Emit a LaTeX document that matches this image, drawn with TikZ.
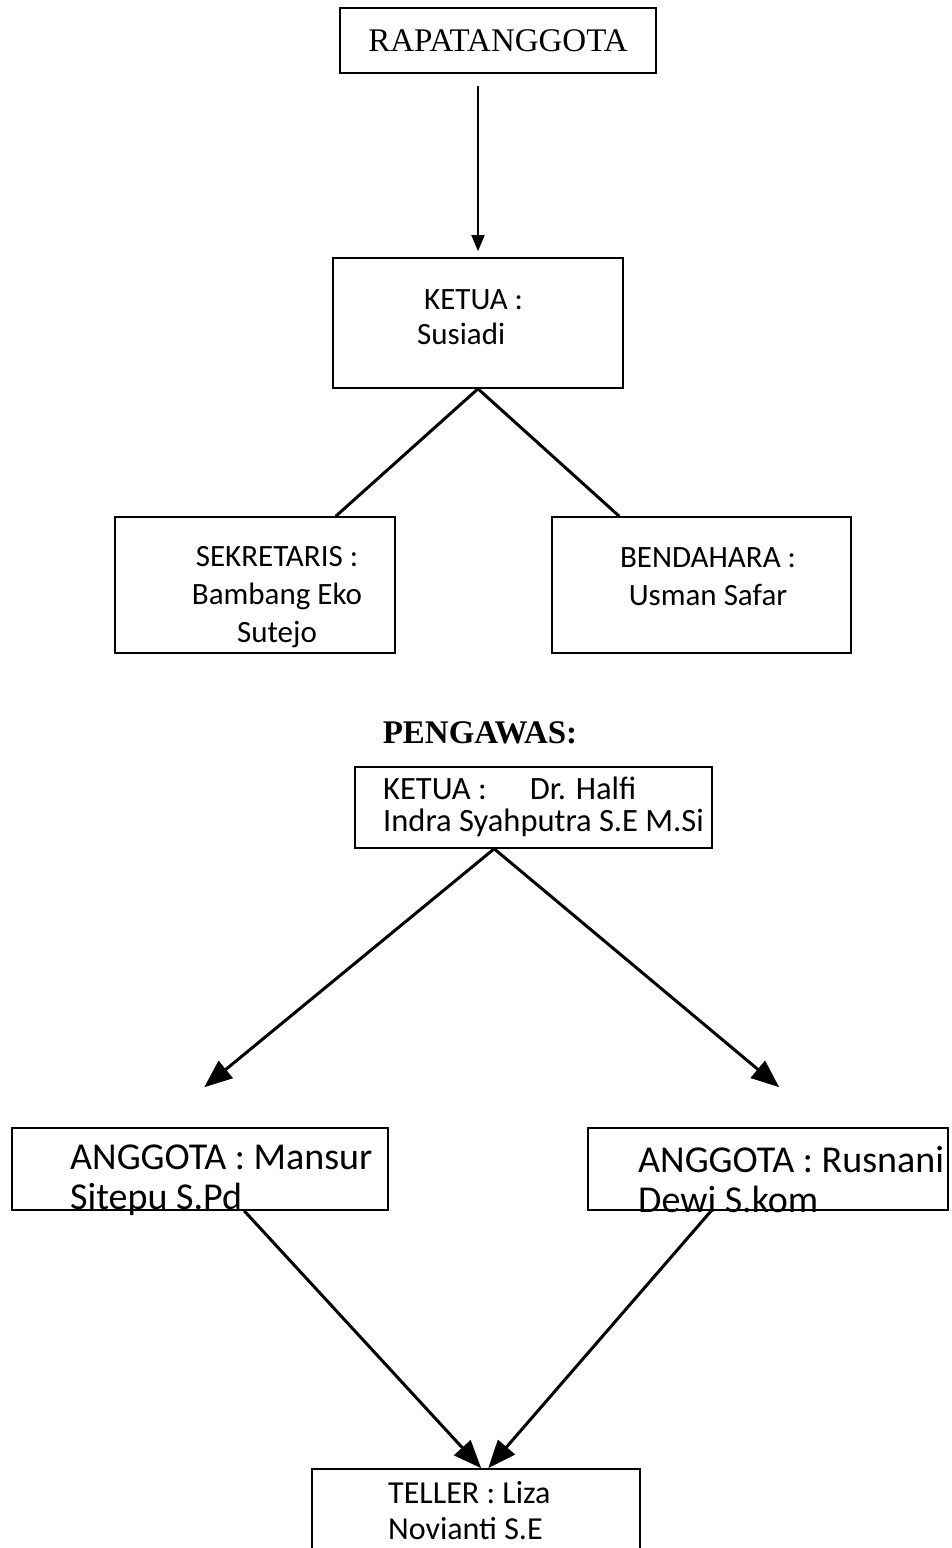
\documentclass[tikz,border=0pt]{standalone}
\usepackage{fontspec}
\setmainfont{Liberation Serif}
\newfontfamily\calibri{Carlito}
\usetikzlibrary{arrows.meta}

\begin{document}
\begin{tikzpicture}[x=1pt,y=-1pt,
      box/.style={draw,line width=1.6pt,inner sep=0pt},
      txt/.style={inner sep=0pt,align=left,font=\calibri\fontsize{32}{36}\selectfont},
      link/.style={line width=3pt},
      arr/.style={line width=3pt,-{Triangle[length=28pt,width=22pt]}}]
      \clip (0,0) rectangle (952,1548);
      \node[box,minimum width=316pt,minimum height=65pt,
        font=\fontsize{33}{38}\selectfont] (rapat) at (498,40.5) {RAPATANGGOTA};
      \node[box,minimum width=290pt,minimum height=130pt] (ketua) at (478,323) {};
      \node[txt,anchor=west,font=\calibri\fontsize{31}{35}\selectfont] (ketuatxt) at (417,317) {\hspace{7pt}KETUA :\\Susiadi};
      \node[box,minimum width=280pt,minimum height=136pt] (sekretaris) at (255,585) {};
      \node[txt,align=center,font=\calibri\fontsize{31}{38}\selectfont] (sekretaristxt) at (277,597) {SEKRETARIS :\\Bambang Eko\\Sutejo};
      \node[box,minimum width=299pt,minimum height=136pt] (bendahara) at (701.5,585) {};
      \node[txt,align=center,font=\calibri\fontsize{31}{38}\selectfont] (bendaharatxt) at (708,577) {BENDAHARA :\\Usman Safar};
      \node[font=\bfseries\fontsize{33}{38}\selectfont] (pengawas) at (480,733) {PENGAWAS:};
      \node[box,minimum width=357pt,minimum height=81pt] (pketua) at (533.5,807.5) {};
      \node[txt,anchor=west,font=\calibri\fontsize{32.5}{32}\selectfont] (pketuatxt) at (383,807) {KETUA :\hspace{43pt}Dr. Halfi\\Indra Syahputra S.E M.Si};
      \node[box,minimum width=376pt,minimum height=82pt] (anggotakiri) at (200,1169) {};
      \node[txt,anchor=west,font=\calibri\fontsize{38}{40}\selectfont] (anggotakiritxt) at (70,1180) {ANGGOTA : Mansur\\Sitepu S.Pd};
      \node[box,minimum width=360pt,minimum height=82pt] (anggotakanan) at (768,1169) {};
      \node[txt,anchor=west,font=\calibri\fontsize{38}{40}\selectfont] (anggotakanantxt) at (638,1180) {ANGGOTA : Rusnani\\Dewi S.kom};
      \node[box,minimum width=328pt,minimum height=118pt] (teller) at (476,1528) {};
      \node[txt,anchor=west] (tellertxt) at (388,1511) {TELLER : Liza\\Novianti S.E};
      \draw[line width=1.8pt,-{Triangle[length=16pt,width=13pt]}] ([xshift=-20pt,yshift=-12pt]rapat.south) -- ([yshift=6pt]ketua.north);
      \draw[link] (ketua.south) -- ([xshift=-60pt]sekretaris.north east);
      \draw[link] (ketua.south) -- ([xshift=68pt]bendahara.north west);
      \draw[arr] ([xshift=140pt]pketua.south west) -- ([xshift=193pt,yshift=40pt]anggotakiri.north west);
      \draw[arr] ([xshift=140pt]pketua.south west) -- ([xshift=192pt,yshift=40pt]anggotakanan.north west);
      \draw[arr] ([xshift=233pt]anggotakiri.south west) -- ([xshift=170pt]teller.north west);
      \draw[arr] ([xshift=124pt]anggotakanan.south west) -- ([xshift=177pt]teller.north west);
\end{tikzpicture}
\end{document}
